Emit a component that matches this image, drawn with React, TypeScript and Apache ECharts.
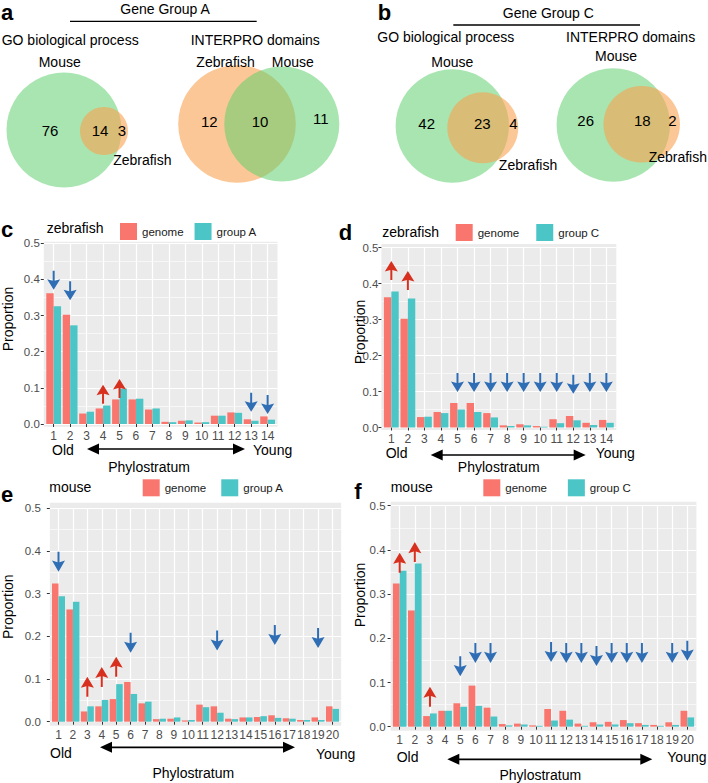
import React, { useEffect, useRef } from 'react';
import * as echarts from 'echarts';

const FONT = '"Liberation Sans", Arial, Helvetica, sans-serif';
const PINK = '#F8766D';
const TEAL = '#4CC5C6';
const RED = '#D7301F';
const BLUE = '#2F6EB5';
const GREEN_FILL = 'rgba(96,208,112,0.55)';
const ORANGE_FILL = 'rgba(250,162,80,0.6)';

// ---- data ----
const zfCats = [1, 2, 3, 4, 5, 6, 7, 8, 9, 10, 11, 12, 13, 14];
const mmCats = [1, 2, 3, 4, 5, 6, 7, 8, 9, 10, 11, 12, 13, 14, 15, 16, 17, 18, 19, 20];

const zfGenome = [0.362, 0.302, 0.029, 0.043, 0.068, 0.068, 0.040, 0.006, 0.009, 0.004, 0.023, 0.032, 0.013, 0.021];
const zfGroupA = [0.326, 0.273, 0.034, 0.051, 0.098, 0.070, 0.043, 0.005, 0.010, 0.005, 0.023, 0.031, 0.009, 0.012];
const zfGroupC = [0.378, 0.358, 0.030, 0.040, 0.050, 0.043, 0.028, 0.004, 0.006, 0.002, 0.012, 0.020, 0.007, 0.013];
const mmGenome = [0.324, 0.263, 0.024, 0.036, 0.053, 0.093, 0.043, 0.006, 0.007, 0.003, 0.040, 0.036, 0.007, 0.010, 0.011, 0.015, 0.008, 0.004, 0.010, 0.036];
const mmGroupA = [0.294, 0.281, 0.036, 0.051, 0.088, 0.065, 0.047, 0.007, 0.010, 0.004, 0.034, 0.021, 0.006, 0.010, 0.013, 0.009, 0.007, 0.004, 0.004, 0.030];
const mmGroupC = [0.353, 0.369, 0.030, 0.036, 0.045, 0.047, 0.023, 0.003, 0.005, 0.002, 0.014, 0.016, 0.002, 0.005, 0.005, 0.008, 0.004, 0.002, 0.004, 0.021];

// arrows: [phylostratum, proportion at arrow centre]
const cUp = [[4, 0.082], [5, 0.098]];
const cDown = [[1, 0.398], [2, 0.369], [13, 0.060], [14, 0.054]];
const dUp = [[1, 0.436], [2, 0.408]];
const dDown = [[5, 0.125], [6, 0.125], [7, 0.125], [8, 0.125], [9, 0.125], [10, 0.125], [11, 0.125], [12, 0.12], [13, 0.125], [14, 0.125]];
const eUp = [[3, 0.082], [4, 0.105], [5, 0.129]];
const eDown = [[1, 0.375], [6, 0.185], [12, 0.19], [16, 0.203], [19, 0.196]];
const fUp = [[1, 0.371], [2, 0.395], [3, 0.068]];
const fDown = [[5, 0.137], [6, 0.167], [7, 0.167], [11, 0.169], [12, 0.167], [13, 0.167], [14, 0.16], [15, 0.167], [16, 0.167], [17, 0.167], [19, 0.167], [20, 0.172]];

// venn counts: [left only, overlap, right only]
const vennA_GO = [76, 14, 3];
const vennA_IP = [12, 10, 11];
const vennC_GO = [42, 23, 4];
const vennC_IP = [26, 18, 2];

const ARROW = 'path://M5.5,0 L7.5,0 L7.5,10 L13,8.5 L6.5,19 L0,8.5 L5.5,10 Z';

type Panel = {
  cats: number[]; genome: number[]; group: number[]; groupName: string;
  up: number[][]; down: number[][];
  left: number; top: number; width: number; height: number;
  bgTop: number; bgBottom: number; offset: number; yMargin: number; xMargin: number;
  barW: number; arrow: number[];
  legendLeft: number; legendTop: number; legendGap: number;
};

const panels: Panel[] = [
  { cats: zfCats, genome: zfGenome, group: zfGroupA, groupName: 'group A', up: cUp, down: cDown,
    left: 43.8, top: 243.3, width: 233.7, height: 180.7, bgTop: 241.7, bgBottom: 426.7, offset: 2.7, yMargin: 4, xMargin: 3,
    barW: 7.4, arrow: [13, 19], legendLeft: 120, legendTop: 223, legendGap: 11 },
  { cats: zfCats, genome: zfGenome, group: zfGroupC, groupName: 'group C', up: dUp, down: dDown,
    left: 381.4, top: 247.5, width: 234.9, height: 180, bgTop: 244, bgBottom: 430, offset: 2.5, yMargin: 3, xMargin: 3,
    barW: 7.4, arrow: [13, 19], legendLeft: 455.7, legendTop: 224, legendGap: 17 },
  { cats: mmCats, genome: mmGenome, group: mmGroupA, groupName: 'group A', up: eUp, down: eDown,
    left: 49.85, top: 508.3, width: 291.3, height: 213.4, bgTop: 502.7, bgBottom: 725.7, offset: 4, yMargin: 9, xMargin: 3,
    barW: 6.5, arrow: [13, 20], legendLeft: 142.7, legendTop: 479.3, legendGap: 15 },
  { cats: mmCats, genome: mmGenome, group: mmGroupC, groupName: 'group C', up: fUp, down: fDown,
    left: 390.6, top: 505.7, width: 305.8, height: 221, bgTop: 501.7, bgBottom: 730.7, offset: 4, yMargin: 5, xMargin: 3,
    barW: 6.8, arrow: [13, 20], legendLeft: 483.3, legendTop: 479.3, legendGap: 21 },
];

function txt(text: string, x: number, y: number, size: number, align = 'left', extra: any = {}) {
  const { bold, ...rest } = extra;
  return {
    type: 'text', x, y, silent: true, ...rest,
    style: { text, x: 0, y: 0, font: `${bold ? 'bold ' : ''}${size}px ${FONT}`, fill: '#000', textAlign: align, textVerticalAlign: 'middle' },
  };
}
function circle(cx: number, cy: number, r: number, fill: string) {
  return { type: 'circle', shape: { cx, cy, r }, style: { fill }, silent: true };
}
function hline(x1: number, x2: number, y: number, w = 1.3) {
  return { type: 'line', shape: { x1, y1: y, x2, y2: y }, style: { stroke: '#000', lineWidth: w }, silent: true };
}
function dblArrow(x1: number, x2: number, y: number) {
  return [
    { type: 'line', shape: { x1: x1 + 6, y1: y, x2: x2 - 6, y2: y }, style: { stroke: '#000', lineWidth: 1.7 }, silent: true },
    { type: 'polygon', shape: { points: [[x1, y], [x1 + 12, y - 5.5], [x1 + 12, y + 5.5]] }, style: { fill: '#000' }, silent: true },
    { type: 'polygon', shape: { points: [[x2, y], [x2 - 12, y - 5.5], [x2 - 12, y + 5.5]] }, style: { fill: '#000' }, silent: true },
  ];
}

function buildOption() {
  const grid: any[] = [];
  const xAxis: any[] = [];
  const yAxis: any[] = [];
  const series: any[] = [];
  const legend: any[] = [];
  const graphic: any[] = [];

  panels.forEach((p, i) => {
    grid.push({ left: p.left, top: p.top, width: p.width, height: p.height, show: false });
    graphic.push({ type: 'rect', z: -1, silent: true, shape: { x: p.left, y: p.bgTop, width: p.width, height: p.bgBottom - p.bgTop }, style: { fill: '#EBEBEB' } });
    xAxis.push({
      type: 'value', gridIndex: i, min: 0.4, max: p.cats.length + 0.6, offset: p.offset,
      axisLine: { show: false },
      axisTick: { show: true, length: 3, customValues: p.cats, lineStyle: { color: '#333', width: 1 } },
      axisLabel: { customValues: p.cats, fontSize: 12, color: '#4D4D4D', fontFamily: FONT, margin: p.xMargin, hideOverlap: false, formatter: (v: number) => String(v) },
      splitLine: { show: true, lineStyle: { color: '#FFFFFF', width: 1.2 } },
    });
    yAxis.push({
      type: 'value', gridIndex: i, min: 0, max: 0.5, interval: 0.1,
      axisLine: { show: false },
      axisTick: { show: true, length: 3, lineStyle: { color: '#333', width: 1 } },
      axisLabel: { fontSize: 11.5, color: '#4D4D4D', fontFamily: FONT, margin: p.yMargin, formatter: (v: number) => v.toFixed(1) },
      splitLine: { show: true, lineStyle: { color: '#FFFFFF', width: 1.2 } },
      minorTick: { show: false, splitNumber: 2 },
      minorSplitLine: { show: true, lineStyle: { color: '#FFFFFF', width: 0.6 } },
    });
    series.push({
      type: 'bar', name: 'genome', xAxisIndex: i, yAxisIndex: i, barWidth: p.barW, barGap: '0%',
      data: p.cats.map((c, k) => [c, p.genome[k]]), itemStyle: { color: PINK }, silent: true,
    });
    series.push({
      type: 'bar', name: p.groupName, xAxisIndex: i, yAxisIndex: i, barWidth: p.barW, barGap: '0%',
      data: p.cats.map((c, k) => [c, p.group[k]]), itemStyle: { color: TEAL }, silent: true,
    });
    series.push({
      type: 'scatter', name: 'up' + i, xAxisIndex: i, yAxisIndex: i, data: p.up, symbol: ARROW, symbolRotate: 180,
      symbolSize: p.arrow, itemStyle: { color: RED, opacity: 1 }, z: 5, silent: true,
    });
    series.push({
      type: 'scatter', name: 'down' + i, xAxisIndex: i, yAxisIndex: i, data: p.down, symbol: ARROW,
      symbolSize: p.arrow, itemStyle: { color: BLUE, opacity: 1 }, z: 5, silent: true,
    });
    legend.push({
      data: ['genome', p.groupName], left: p.legendLeft, top: p.legendTop, padding: 0, itemGap: p.legendGap,
      itemWidth: 17, itemHeight: 17, icon: 'rect', selectedMode: false,
      textStyle: { fontSize: 11.5, fontFamily: FONT, color: '#1A1A1A' },
    });
  });

  // ---- Venn diagrams and headers ----
  graphic.push(txt('a', 7, 12.5, 22, 'center', { bold: true }));
  graphic.push(txt('b', 384.5, 12.5, 22, 'center', { bold: true }));
  graphic.push(txt('Gene Group A', 165, 9, 14, 'center'));
  graphic.push(hline(70, 256.7, 21.3));
  graphic.push(txt('GO biological process', 1.7, 40, 14));
  graphic.push(txt('INTERPRO domains', 190.7, 40, 14));
  graphic.push(circle(64, 130, 57.5, GREEN_FILL));
  graphic.push(circle(104, 131, 24, ORANGE_FILL));
  graphic.push(txt('Mouse', 59.7, 61.7, 14, 'center'));
  graphic.push(txt(String(vennA_GO[0]), 50, 130, 15, 'center'));
  graphic.push(txt(String(vennA_GO[1]), 100, 130, 15, 'center'));
  graphic.push(txt(String(vennA_GO[2]), 122, 130, 15, 'center'));
  graphic.push(txt('Zebrafish', 142.3, 160, 14, 'center'));
  graphic.push(circle(237, 124, 58.8, ORANGE_FILL));
  graphic.push(circle(281.8, 124, 57.5, GREEN_FILL));
  graphic.push(txt('Zebrafish', 225.5, 61.7, 14, 'center'));
  graphic.push(txt('Mouse', 292.8, 61.7, 14, 'center'));
  graphic.push(txt(String(vennA_IP[0]), 209.3, 121.7, 15, 'center'));
  graphic.push(txt(String(vennA_IP[1]), 260, 121.7, 15, 'center'));
  graphic.push(txt(String(vennA_IP[2]), 320.7, 118, 15, 'center'));

  graphic.push(txt('Gene Group C', 548.3, 13.3, 14, 'center'));
  graphic.push(hline(453.3, 640, 25));
  graphic.push(txt('GO biological process', 377.3, 36.7, 14));
  graphic.push(txt('INTERPRO domains', 566, 36.7, 14));
  graphic.push(circle(452.3, 126, 56.7, GREEN_FILL));
  graphic.push(circle(482.8, 127.7, 35.5, ORANGE_FILL));
  graphic.push(txt('Mouse', 452.3, 61.7, 14, 'center'));
  graphic.push(txt(String(vennC_GO[0]), 426.7, 123.3, 15, 'center'));
  graphic.push(txt(String(vennC_GO[1]), 482.3, 123.3, 15, 'center'));
  graphic.push(txt(String(vennC_GO[2]), 513.3, 123.3, 15, 'center'));
  graphic.push(txt('Zebrafish', 528, 165, 14, 'center'));
  graphic.push(circle(613.3, 125, 56.7, GREEN_FILL));
  graphic.push(circle(641.7, 124.3, 38.3, ORANGE_FILL));
  graphic.push(txt('Mouse', 616, 56, 14, 'center'));
  graphic.push(txt(String(vennC_IP[0]), 585.7, 120.7, 15, 'center'));
  graphic.push(txt(String(vennC_IP[1]), 642.3, 120.7, 15, 'center'));
  graphic.push(txt(String(vennC_IP[2]), 672.3, 120.7, 15, 'center'));
  graphic.push(txt('Zebrafish', 677.8, 156.7, 14, 'center'));

  // ---- bar panel annotations ----
  graphic.push(txt('c', 7, 229, 22, 'center', { bold: true }));
  graphic.push(txt('d', 345.5, 232, 22, 'center', { bold: true }));
  graphic.push(txt('e', 7, 494, 22, 'center', { bold: true }));
  graphic.push(txt('f', 358, 491, 22, 'center', { bold: true }));

  graphic.push(txt('zebrafish', 46.7, 228.3, 14));
  graphic.push(txt('zebrafish', 382.3, 231.7, 14));
  graphic.push(txt('mouse', 49.3, 486.7, 14));
  graphic.push(txt('mouse', 390.7, 486.7, 14));

  graphic.push(txt('Proportion', 8, 319, 14, 'center', { rotation: Math.PI / 2 }));
  graphic.push(txt('Proportion', 360, 332, 14, 'center', { rotation: Math.PI / 2 }));
  graphic.push(txt('Proportion', 8, 606.7, 14, 'center', { rotation: Math.PI / 2 }));
  graphic.push(txt('Proportion', 360, 595, 14, 'center', { rotation: Math.PI / 2 }));

  graphic.push(txt('Old', 52, 449.7, 14));
  graphic.push(txt('Young', 253, 449.7, 14));
  graphic.push(...dblArrow(87, 245, 449));
  graphic.push(txt('Phylostratum', 149, 466.7, 14, 'center'));

  graphic.push(txt('Old', 385.7, 453.3, 14));
  graphic.push(txt('Young', 595.7, 453.3, 14));
  graphic.push(...dblArrow(430.7, 585.7, 455));
  graphic.push(txt('Phylostratum', 498.7, 466.7, 14, 'center'));

  graphic.push(txt('Old', 50, 753, 14));
  graphic.push(txt('Young', 316, 754, 14));
  graphic.push(...dblArrow(100, 295, 747.3));
  graphic.push(txt('Phylostratum', 193.3, 773.3, 14, 'center'));

  graphic.push(txt('Old', 396.7, 756.7, 14));
  graphic.push(txt('Young', 667.3, 756.7, 14));
  graphic.push(...dblArrow(447.3, 652.3, 759.3));
  graphic.push(txt('Phylostratum', 540.3, 775, 14, 'center'));

  return {
    animation: false,
    backgroundColor: '#FFFFFF',
    textStyle: { fontFamily: FONT },
    grid, xAxis, yAxis, series, legend, graphic,
  };
}

export default function App() {
  const ref = useRef<HTMLDivElement>(null);
  useEffect(() => {
    if (!ref.current) return;
    const chart = echarts.init(ref.current, undefined, { renderer: 'svg' });
    chart.setOption(buildOption() as any);
    return () => chart.dispose();
  }, []);
  return <div ref={ref} style={{ position: 'fixed', left: 0, top: 0, width: 708, height: 783 }} />;
}
